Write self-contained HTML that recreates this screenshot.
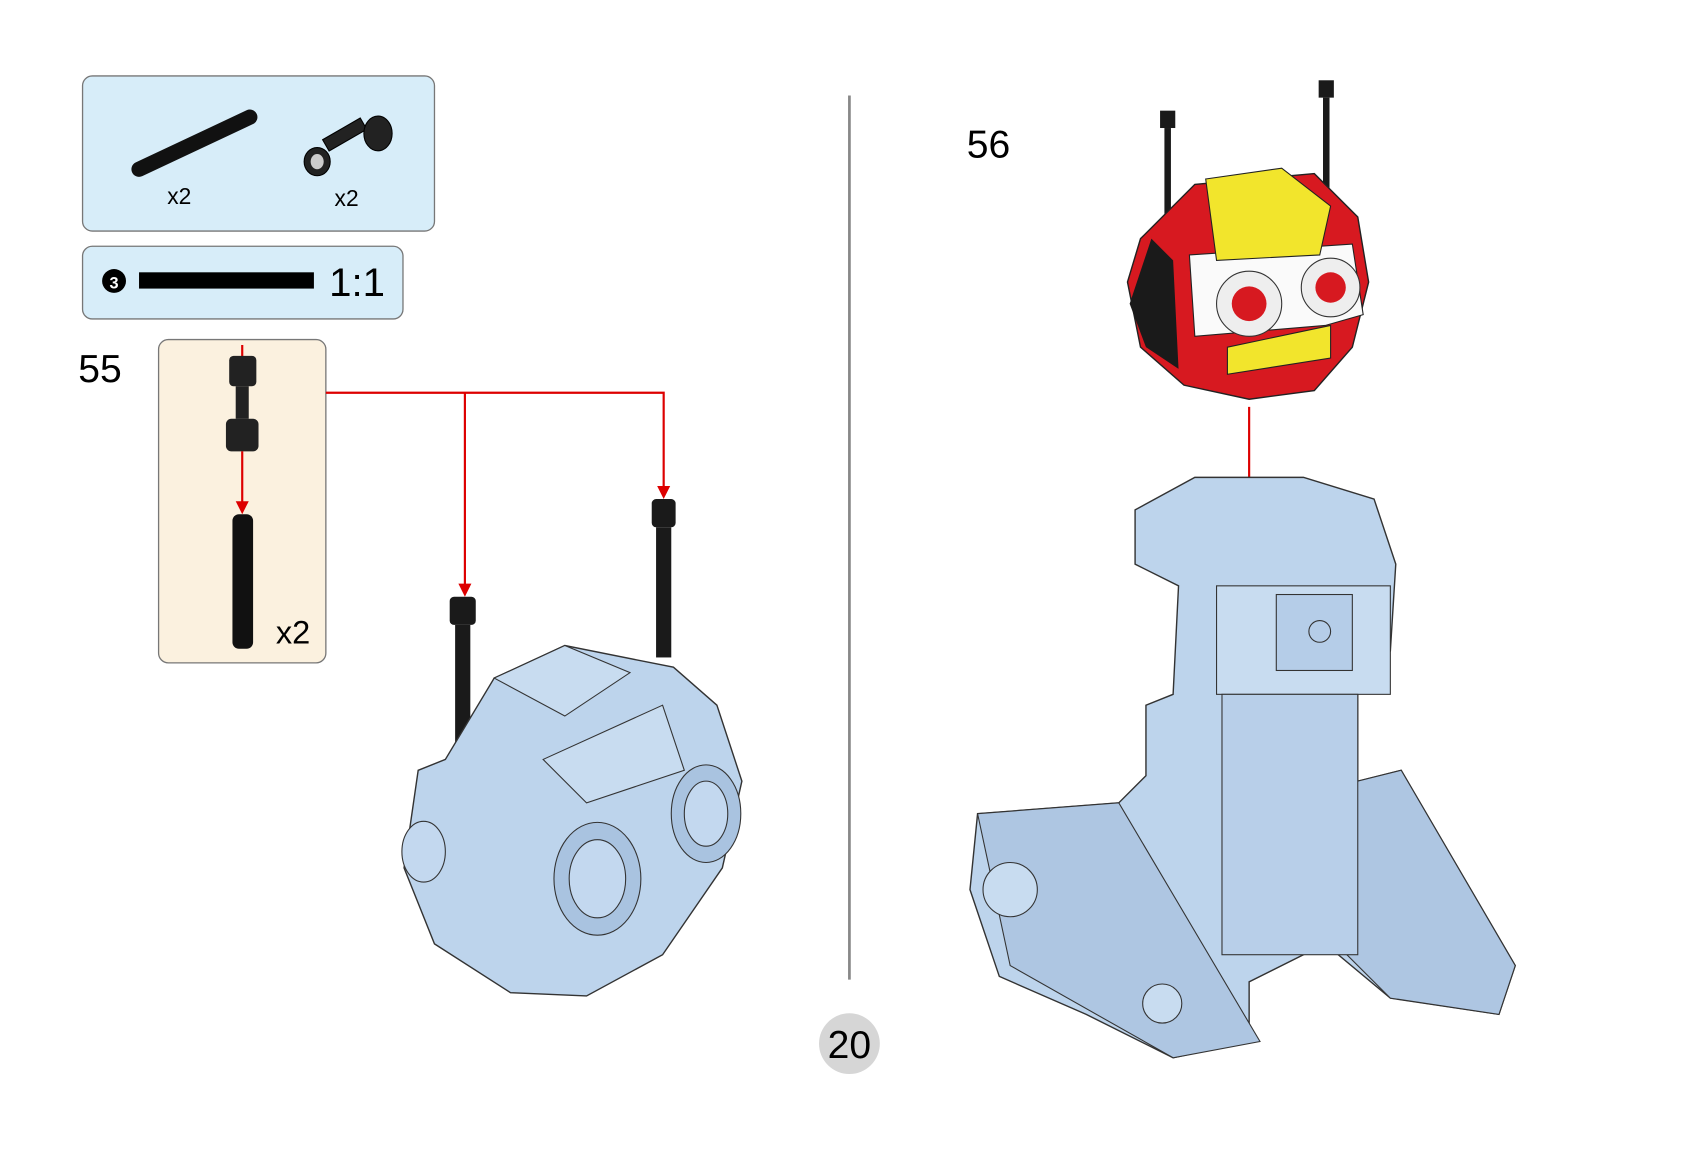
<!DOCTYPE html>
<html><head><style>html,body{margin:0;padding:0;background:#fff}svg{display:block}</style></head><body>
<svg width="1701" height="1150" viewBox="0 0 1566 1060" preserveAspectRatio="none" xmlns="http://www.w3.org/2000/svg" font-family="Liberation Sans, sans-serif">
<rect x="76" y="70" width="324" height="143" rx="9" fill="#d7edf9" stroke="#777" stroke-width="1.2"/>
<line x1="128" y1="156" x2="230" y2="108" stroke="#111" stroke-width="14" stroke-linecap="round"/>
<g fill="#222" stroke="#000"><ellipse cx="292" cy="149" rx="12" ry="13"/><rect x="300" y="128" width="40" height="12" transform="rotate(-30 300 134)"/><ellipse cx="348" cy="123" rx="13" ry="16"/></g>
<ellipse cx="292" cy="149" rx="6" ry="7" fill="#ccc"/>
<text x="154" y="188" font-size="21">x2</text><text x="308" y="190" font-size="21">x2</text>
<rect x="76" y="227" width="295" height="67" rx="9" fill="#d7edf9" stroke="#777" stroke-width="1.2"/>
<circle cx="105" cy="259" r="11" fill="#000"/><text x="105" y="266" font-size="15" fill="#fff" text-anchor="middle" font-weight="bold">3</text>
<rect x="128" y="251" width="161" height="15" fill="#000"/>
<text x="303" y="273" font-size="37">1:1</text>
<text x="72" y="352" font-size="36">55</text>
<rect x="146" y="313" width="154" height="298" rx="9" fill="#fbf1df" stroke="#777" stroke-width="1.2"/>
<line x1="223" y1="318" x2="223" y2="335" stroke="#d00" stroke-width="2"/>
<g fill="#222"><rect x="211" y="328" width="25" height="28" rx="4"/><rect x="217" y="356" width="12" height="30"/><rect x="208" y="386" width="30" height="30" rx="5"/></g>
<line x1="223" y1="416" x2="223" y2="465" stroke="#d00" stroke-width="2"/><polygon points="217,462 229,462 223,474" fill="#d00"/>
<rect x="214" y="474" width="19" height="124" rx="6" fill="#111"/>
<text x="254" y="593" font-size="30">x2</text>
<polyline points="300,362 611,362 611,450" fill="none" stroke="#d00" stroke-width="2"/>
<line x1="428" y1="362" x2="428" y2="540" stroke="#d00" stroke-width="2"/>
<polygon points="605,448 617,448 611,460" fill="#d00"/><polygon points="422,538 434,538 428,550" fill="#d00"/>
<g fill="#1a1a1a"><rect x="600" y="460" width="22" height="26" rx="4"/><rect x="604" y="486" width="14" height="120"/><rect x="414" y="550" width="24" height="26" rx="4"/><rect x="419" y="576" width="14" height="150"/></g>
<path d="M385 710 L410 700 L455 625 L520 595 L620 615 L660 650 L683 720 L665 800 L610 880 L540 918 L470 915 L400 870 L372 800 Z" fill="#bdd4ec" stroke="#333" stroke-width="1.3"/>
<ellipse cx="550" cy="810" rx="40" ry="52" fill="#a9c3e0" stroke="#333"/><ellipse cx="550" cy="810" rx="26" ry="36" fill="#c3d8ef" stroke="#333"/>
<ellipse cx="650" cy="750" rx="32" ry="45" fill="#a9c3e0" stroke="#333"/><ellipse cx="650" cy="750" rx="20" ry="30" fill="#c3d8ef" stroke="#333"/>
<ellipse cx="390" cy="785" rx="20" ry="28" fill="#c3d8ef" stroke="#333"/>
<path d="M455 625 L520 595 L580 620 L520 660 Z M500 700 L610 650 L630 710 L540 740 Z" fill="#c8dcf0" stroke="#333"/>
<line x1="782" y1="88" x2="782" y2="903" stroke="#888" stroke-width="2.5"/>
<circle cx="782" cy="962" r="28" fill="#d6d6d6"/><text x="782" y="975" font-size="36" text-anchor="middle">20</text>
<text x="890" y="145" font-size="36">56</text>
<g fill="#1a1a1a"><rect x="1068" y="102" width="14" height="16"/><rect x="1072" y="118" width="6" height="100"/><rect x="1214" y="74" width="14" height="16"/><rect x="1218" y="90" width="6" height="110"/></g>
<path d="M1050 220 L1100 170 L1210 160 L1250 200 L1260 260 L1245 320 L1210 360 L1150 368 L1090 355 L1050 320 L1038 260 Z" fill="#d71920" stroke="#222" stroke-width="1.3"/>
<path d="M1040 280 L1060 220 L1080 240 L1085 340 L1055 320 Z" fill="#1a1a1a"/>
<path d="M1095 235 L1245 225 L1255 290 L1220 300 L1100 310 Z" fill="#fafafa" stroke="#222"/>
<path d="M1110 165 L1180 155 L1225 190 L1215 235 L1120 240 Z" fill="#f2e52c" stroke="#222"/>
<path d="M1130 320 L1225 300 L1225 330 L1130 345 Z" fill="#f2e52c" stroke="#222"/>
<circle cx="1150" cy="280" r="30" fill="#eee" stroke="#333"/><circle cx="1150" cy="280" r="16" fill="#d71920"/>
<circle cx="1225" cy="265" r="27" fill="#eee" stroke="#333"/><circle cx="1225" cy="265" r="14" fill="#d71920"/>
<line x1="1150" y1="375" x2="1150" y2="440" stroke="#d00" stroke-width="2"/><polygon points="1144,440 1156,440 1150,452" fill="#d00"/>
<path d="M1045 470 L1100 440 L1200 440 L1265 460 L1285 520 L1280 600 L1250 640 L1250 720 L1290 710 L1395 890 L1380 935 L1280 920 L1220 870 L1150 905 L1150 960 L1080 975 L1000 935 L920 900 L893 820 L900 750 L1030 740 L1055 715 L1055 650 L1080 640 L1085 540 L1045 520 Z" fill="#bdd4ec" stroke="#333" stroke-width="1.3"/>
<path d="M900 750 L1030 740 L1160 960 L1080 975 L930 890 Z M1250 720 L1290 710 L1395 890 L1380 935 L1280 920 L1220 860 Z" fill="#aec6e2" stroke="#333"/>
<rect x="1120" y="540" width="160" height="100" fill="#c8dcf0" stroke="#333"/>
<rect x="1175" y="548" width="70" height="70" fill="#b5cde8" stroke="#333"/><circle cx="1215" cy="582" r="10" fill="none" stroke="#333"/>
<rect x="1125" y="640" width="125" height="240" fill="#b8cfe9" stroke="#333"/>
<circle cx="930" cy="820" r="25" fill="#c8dcf0" stroke="#333"/><circle cx="1070" cy="925" r="18" fill="#c8dcf0" stroke="#333"/>
</svg>
</body></html>
